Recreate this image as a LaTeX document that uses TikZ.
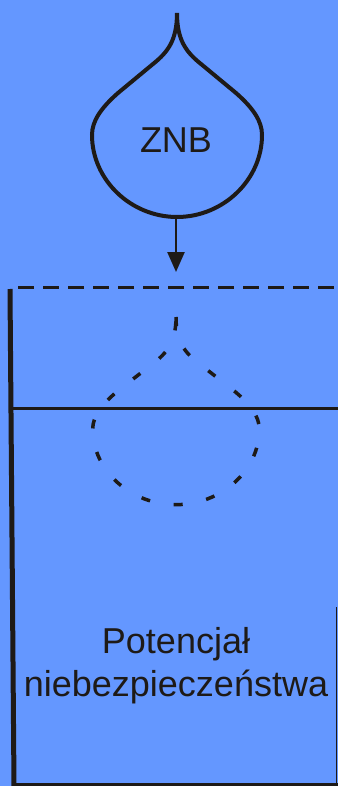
\documentclass[tikz,border=0pt]{standalone}
\usepackage{fontspec}
\setmainfont{Liberation Sans}
\usepackage{tikz}
\usetikzlibrary{arrows.meta}
\definecolor{skyblue}{HTML}{6497FF}
\definecolor{ink}{HTML}{1E1A17}

\begin{document}
\begin{tikzpicture}[x=1pt, y=-1pt,
  drop/.style={draw=ink, line width=4pt},
  droptrace/.style={draw=ink, line width=3.5pt, dash pattern=on 9pt off 24pt},
  label/.style={text=ink, font=\fontsize{36}{43}\selectfont, inner sep=0pt}]
\fill[skyblue] (0,0) rectangle (338,786);
\useasboundingbox (0,0) rectangle (338,786);
% falling drop
\draw[drop, shift={(177,13)}] (0,0) .. controls (0,27) and (9,39) .. (24,51)
  -- (59,80) .. controls (76,95) and (85,108) .. (85,122)
  .. controls (85,167) and (46,204) .. (0,204)
  .. controls (-46,204) and (-85,167) .. (-85,122)
  .. controls (-85,108) and (-76,95) .. (-59,80)
  -- (-24,51) .. controls (-9,39) and (0,27) .. (0,0);
\node[label, anchor=base] (znb) at (176,153) {ZNB};
\coordinate (dropbot) at (176,217);
\coordinate (surface) at (176,272);
\draw[ink, line width=2.5pt, -{Triangle[length=20pt, width=17pt]}] (dropbot) -- (surface);
% tank
\draw[ink, line width=3pt, dash pattern=on 16pt off 9pt] (18,287) -- (338,287);
\draw[ink, line width=5pt] (10,289) -- (14,786);
\draw[ink, line width=3pt] (12,408) -- (338,408);
\draw[ink, line width=3pt] (12,784) -- (338,784);
\draw[ink, line width=1pt] (336.5,607) -- (336.5,785);
% drop trace under the surface
\draw[droptrace, shift={(176,317)}, xscale=0.98, yscale=0.92] (0,0) .. controls (0,27) and (9,39) .. (24,51)
  -- (59,80) .. controls (76,95) and (85,108) .. (85,122)
  .. controls (85,167) and (46,204) .. (0,204)
  .. controls (-46,204) and (-85,167) .. (-85,122)
  .. controls (-85,108) and (-76,95) .. (-59,80)
  -- (-24,51) .. controls (-9,39) and (0,27) .. (0,0);
\node[label, align=center] (potencjal) at (176,666) {Potencjał\\niebezpieczeństwa};
\end{tikzpicture}
\end{document}
